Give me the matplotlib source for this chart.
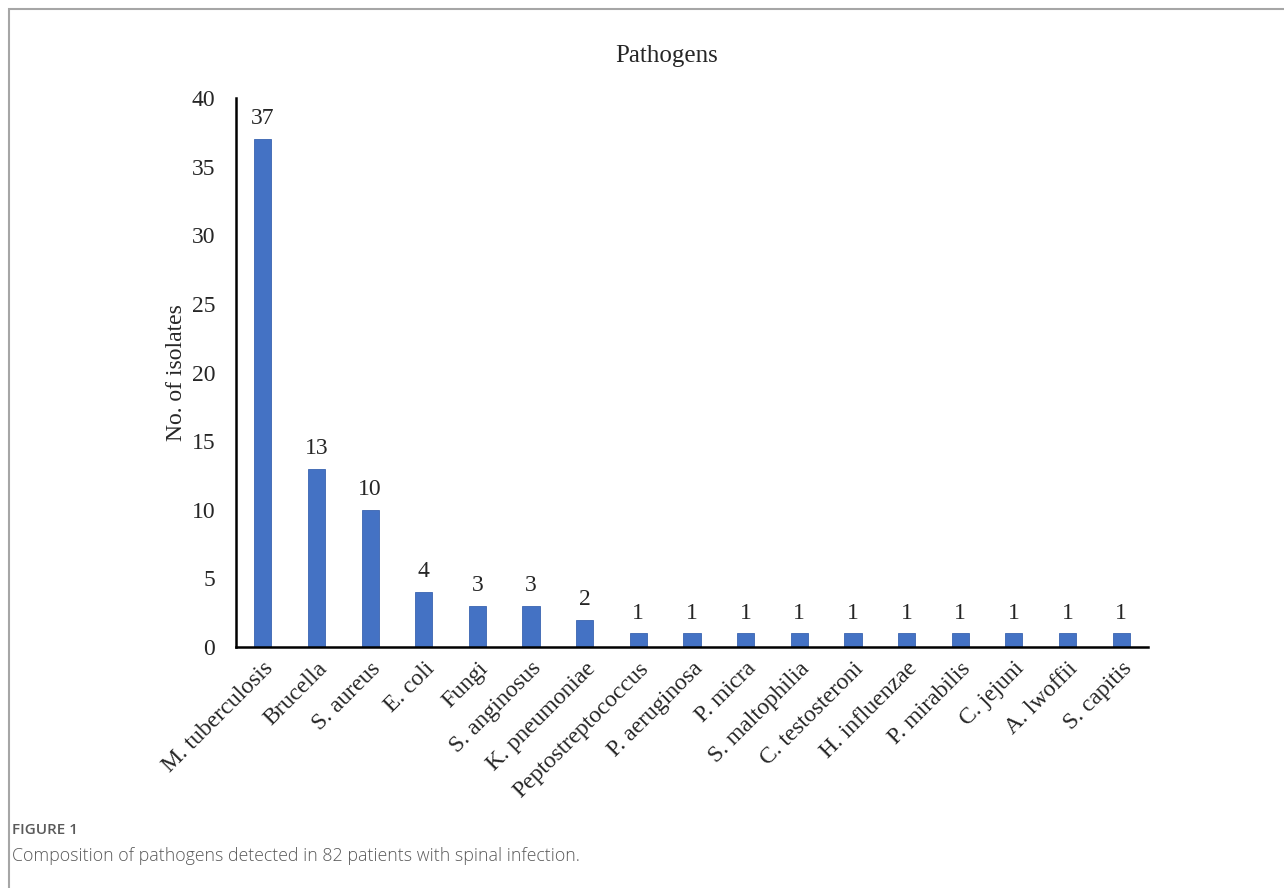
import matplotlib.pyplot as plt
from matplotlib.patches import Rectangle

pathogens = ["M. tuberculosis", "Brucella", "S. aureus", "E. coli", "Fungi",
             "S. anginosus", "K. pneumoniae", "Peptostreptococcus", "P. aeruginosa",
             "P. micra", "S. maltophilia", "C. testosteroni", "H. influenzae",
             "P. mirabilis", "C. jejuni", "A. lwoffii", "S. capitis"]
isolates = [37, 13, 10, 4, 3, 3, 2, 1, 1, 1, 1, 1, 1, 1, 1, 1, 1]
y_ticks = [0, 5, 10, 15, 20, 25, 30, 35, 40]

serif = "Liberation Serif"
txt_color = "#262626"
fs = 17

fig = plt.figure(figsize=(12.84, 8.88), dpi=100)

# light frame round the figure (only top and left show)
fig.patches.append(Rectangle((9 / 1284, -0.05), 1.2, 1 - 9 / 888 + 0.05,
                             transform=fig.transFigure, fill=False,
                             edgecolor="#a6a6a6", linewidth=1.5))

ax = fig.add_axes([236 / 1284, 1 - 647 / 888, (1148 - 236) / 1284, (647 - 98) / 888])
x = range(len(pathogens))
ax.bar(x, isolates, width=0.32, color="#4472C4", edgecolor="#3a64b0", linewidth=0.6)

for xi, v in zip(x, isolates):
    ax.annotate(str(v), (xi, v), xytext=(0, 7), textcoords="offset points",
                ha="center", va="bottom", fontsize=fs, family=serif, color=txt_color)

ax.set_xlim(-0.5, len(pathogens) - 0.5)
ax.set_ylim(0, 40)
ax.set_yticks(y_ticks)
ax.set_yticklabels([str(t) for t in y_ticks], fontsize=fs, family=serif, color=txt_color)
ax.set_xticks(list(x))
ax.set_xticklabels(pathogens, rotation=45, ha="right", va="top", rotation_mode="anchor",
                   fontsize=fs, family=serif, color=txt_color)
ax.tick_params(axis="both", length=0)
ax.tick_params(axis="y", pad=15)
ax.tick_params(axis="x", pad=8)

for s in ["top", "right"]:
    ax.spines[s].set_visible(False)
ax.spines["left"].set_linewidth(1.8)
ax.spines["bottom"].set_linewidth(1.8)
ax.spines["left"].set_color("black")
ax.spines["bottom"].set_color("black")

ax.set_ylabel("No. of isolates", fontsize=fs, family=serif, color=txt_color, labelpad=3)
fig.text(667 / 1284, 1 - 56 / 888, "Pathogens", ha="center", va="center",
         fontsize=18, family=serif, color=txt_color)

fig.text(12 / 1284, 1 - 830 / 888, "FIGURE 1", ha="left", va="center",
         fontsize=11, family="Open Sans", color="#5a5a5a", fontweight="semibold")
fig.text(12 / 1284, 1 - 856 / 888, "Composition of pathogens detected in 82 patients with spinal infection.",
         ha="left", va="center", fontsize=12.8, family="Open Sans", color="#5a5a5a",
         fontweight="light")

fig.savefig("out.png", dpi=100)
